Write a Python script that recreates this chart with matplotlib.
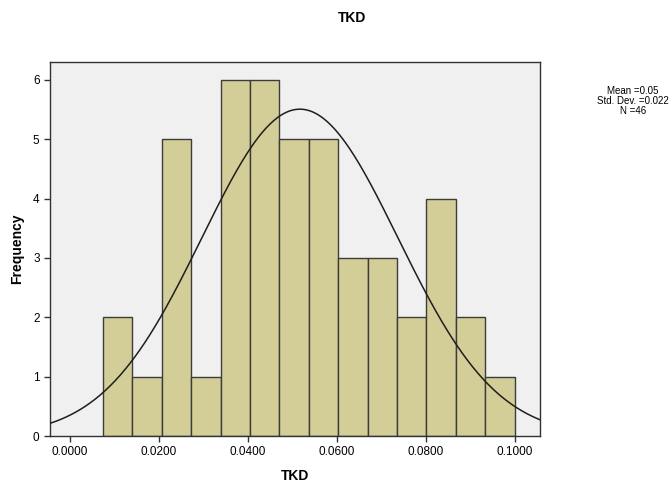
import numpy as np
import matplotlib.pyplot as plt

# histogram
bin_start = 0.0075
bin_width = 0.0066
counts = [2, 1, 5, 1, 6, 6, 5, 5, 3, 3, 2, 4, 2, 1]

# fitted normal curve
mean_val = 0.0517
std_val = 0.022
n_obs = 46

x_ticks = [0.0, 0.02, 0.04, 0.06, 0.08, 0.1]
x_tick_labels = ['0.0000', '0.0200', '0.0400', '0.0600', '0.0800', '0.1000']
y_ticks = [0, 1, 2, 3, 4, 5, 6]

plt.rcParams['font.family'] = ['Liberation Sans', 'DejaVu Sans']

fig = plt.figure(figsize=(6.72, 4.86), dpi=100)
ax = fig.add_axes([50 / 672, 1 - 436 / 486, 490 / 672, 374 / 486])
ax.set_facecolor('#F0F0F0')

edges = bin_start + bin_width * np.arange(len(counts))
ax.bar(edges, counts, width=bin_width, align='edge',
       color='#D3CE97', edgecolor='#3C3C3C', linewidth=1.0, zorder=2)

xs = np.linspace(-0.0044, 0.1056, 400)
curve = n_obs * bin_width / (std_val * np.sqrt(2 * np.pi)) * np.exp(-0.5 * ((xs - mean_val) / std_val) ** 2)
ax.plot(xs, curve, color='#1E1E1E', linewidth=1.1, zorder=3)

ax.set_xlim(-0.0044, 0.1056)
ax.set_ylim(0, 6.3)
ax.set_xticks(x_ticks)
ax.set_xticklabels(x_tick_labels)
ax.set_yticks(y_ticks)
ax.tick_params(labelsize=8.5, length=4, color='#333333', width=1)
ax.tick_params(axis='x', pad=3)
for s in ax.spines.values():
    s.set_color('#333333')
    s.set_linewidth(1.0)

ax.set_xlabel('TKD', fontsize=10, fontweight='bold', labelpad=8)
ax.set_ylabel('Frequency', fontsize=10, fontweight='bold', labelpad=6)
fig.text(352 / 672, 1 - 18 / 486, 'TKD', ha='center', va='center',
         fontsize=10, fontweight='bold')

fig.text(633 / 672, 1 - 101 / 486,
         'Mean =%.2f\nStd. Dev. =%.3f\nN =%d' % (0.05, std_val, n_obs),
         ha='center', va='center', fontsize=7, linespacing=0.95)

fig.savefig('out.png', dpi=100)
